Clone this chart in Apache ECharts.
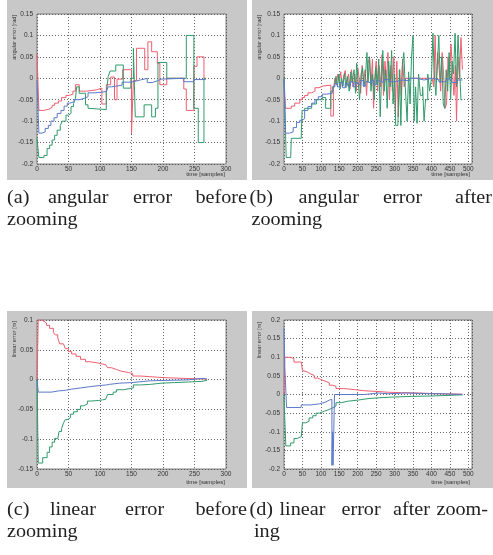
<!DOCTYPE html>
<html>
<head>
<meta charset="utf-8">
<script src="https://cdn.jsdelivr.net/npm/echarts@6/dist/echarts.min.js"></script>
<style>
  html, body { margin: 0; padding: 0; background: #fff; }
  #main { width: 493px; height: 555px; }
</style>
</head>
<body>
<div id="main"></div>
<script>
// ---- data: [time sample, error] steps ----
// (a) angular error before zooming
const angBeforeRed = [[0,0.058],[3,-0.075],[11,-0.072],[19,-0.068],[24,-0.063],[28,-0.058],[34,-0.053],[39,-0.045],[46,-0.040],[51,-0.037],[57,-0.030],[61,-0.015],[67,-0.030],[79,-0.027],[94,-0.023],[103,-0.060],[110,-0.015],[117,0.003],[123,-0.050],[127,-0.002],[136,0.020],[150,-0.130],[153,-0.005],[158,0.070],[171,0.020],[176,0.085],[182,0.062],[191,0.035],[195,-0.015],[206,0.000],[233,-0.025],[237,-0.075],[249,0.028],[254,0.050],[265,0.000],[268,0.000]];
const angBeforeBlue = [[0,-0.005],[3,-0.128],[8,-0.125],[13,-0.117],[18,-0.110],[22,-0.100],[27,-0.092],[32,-0.082],[38,-0.075],[43,-0.065],[48,-0.058],[52,-0.055],[59,-0.050],[67,-0.047],[75,-0.043],[81,-0.034],[92,-0.031],[110,-0.027],[113,-0.020],[118,-0.018],[127,-0.016],[135,-0.009],[148,-0.008],[153,-0.004],[164,-0.002],[170,0.000],[175,-0.010],[183,-0.006],[191,-0.002],[197,0.000],[233,-0.008],[249,-0.003],[268,-0.003]];
const angBeforeGreen = [[0,-0.140],[3,-0.185],[11,-0.180],[16,-0.164],[20,-0.156],[24,-0.144],[28,-0.133],[32,-0.121],[37,-0.110],[40,-0.100],[46,-0.086],[50,-0.082],[54,-0.066],[58,-0.059],[61,-0.047],[63,-0.020],[67,-0.035],[77,-0.062],[81,-0.070],[84,-0.073],[110,-0.035],[113,0.004],[116,0.017],[125,0.031],[137,-0.023],[149,0.000],[153,0.070],[156,-0.090],[170,-0.062],[182,-0.090],[188,-0.070],[192,0.037],[206,0.000],[233,0.000],[237,0.100],[249,-0.070],[256,-0.150],[265,0.000],[268,0.000]];

// (b) angular error after zooming
const angAfterRed = [[0,0.000],[4,-0.070],[11,-0.070],[20,-0.065],[29,-0.058],[43,-0.050],[49,-0.045],[56,-0.040],[65,-0.034],[75,-0.030],[84,-0.022],[95,-0.018],[106,-0.016],[127,-0.088],[134,-0.027],[138,0.000],[142,-0.015],[146,0.010],[150,-0.010],[154,0.015],[158,-0.020],[162,0.005],[166,0.018],[170,-0.015],[175,0.010],[179,-0.025],[183,0.020],[188,-0.020],[192,0.010],[196,-0.030],[200,0.025],[204,0.000],[208,-0.035],[212,0.030],[216,-0.010],[220,0.020],[224,-0.040],[228,0.035],[232,0.050],[236,-0.015],[240,0.045],[243,-0.070],[246,0.000],[250,0.040],[254,-0.030],[258,0.030],[262,-0.020],[266,0.055],[270,-0.040],[274,0.040],[278,-0.010],[282,0.060],[286,-0.050],[290,0.030],[294,-0.030],[298,0.050],[302,-0.080],[306,0.040],[310,-0.090],[314,0.020],[318,-0.040],[322,0.045],[326,-0.020],[330,0.000],[402,0.000],[406,-0.020],[410,0.100],[413,-0.010],[417,0.060],[421,0.020],[425,-0.030],[429,0.060],[433,0.010],[437,-0.070],[441,-0.060],[445,0.050],[449,0.000],[453,0.080],[457,0.020],[461,-0.040],[465,0.030],[468,-0.100],[472,0.050],[476,0.000],[480,0.095],[484,0.020]];
const angAfterBlue = [[0,0.000],[4,-0.128],[15,-0.125],[25,-0.115],[34,-0.103],[43,-0.098],[49,-0.094],[56,-0.075],[65,-0.066],[75,-0.058],[84,-0.050],[93,-0.043],[104,-0.037],[115,-0.035],[131,-0.020],[138,-0.012],[145,-0.020],[152,-0.010],[159,-0.022],[166,-0.012],[173,-0.018],[180,-0.008],[187,-0.020],[194,-0.010],[201,-0.015],[208,-0.005],[215,-0.018],[222,-0.008],[229,-0.012],[236,-0.004],[243,-0.015],[250,-0.006],[260,-0.010],[270,-0.003],[285,-0.008],[300,-0.004],[320,-0.006],[340,0.000],[360,-0.004],[380,0.000],[402,-0.003],[420,-0.008],[440,-0.002],[455,-0.010],[470,-0.004],[484,-0.004]];
const angAfterGreen = [[0,0.000],[3,-0.090],[6,-0.185],[18,-0.185],[20,-0.140],[47,-0.130],[49,-0.075],[56,-0.070],[75,-0.060],[88,-0.050],[104,-0.045],[113,-0.070],[127,-0.030],[133,-0.020],[138,-0.015],[141,0.005],[145,-0.020],[149,0.010],[152,-0.025],[156,0.000],[160,-0.018],[164,0.012],[168,-0.022],[172,0.004],[177,-0.030],[181,0.015],[185,-0.010],[190,0.020],[194,-0.035],[197,0.035],[201,-0.005],[205,-0.050],[209,0.010],[213,0.025],[217,-0.020],[221,0.005],[225,0.060],[228,-0.010],[232,0.050],[236,-0.030],[240,0.010],[245,-0.050],[249,0.025],[253,-0.015],[257,0.045],[261,-0.090],[264,-0.010],[268,0.065],[272,-0.030],[276,0.020],[280,-0.070],[284,0.040],[288,-0.020],[292,0.065],[296,-0.060],[300,0.010],[303,-0.110],[309,-0.105],[313,0.020],[317,-0.110],[321,0.030],[325,0.060],[329,-0.020],[334,-0.100],[338,0.015],[342,-0.060],[346,0.050],[350,0.100],[353,-0.100],[357,-0.020],[361,-0.105],[365,0.010],[370,-0.040],[376,-0.020],[380,-0.100],[384,-0.050],[390,0.010],[395,-0.030],[400,0.000],[404,0.105],[407,0.020],[412,-0.040],[416,0.030],[420,0.100],[424,-0.010],[428,0.050],[432,-0.060],[436,-0.070],[440,0.020],[444,-0.030],[448,0.060],[452,-0.050],[456,0.040],[460,0.010],[464,0.105],[468,-0.020],[472,0.100],[476,0.030],[480,-0.050],[484,-0.050]];

// (c) linear error before zooming
const linBeforeRed = [[0,0],[2,0.100],[7,0.098],[11,0.095],[15,0.091],[20,0.086],[26,0.079],[29,0.075],[33,0.070],[36,0.060],[42,0.057],[45,0.052],[50,0.047],[55,0.043],[62,0.039],[69,0.034],[77,0.030],[84,0.028],[96,0.025],[109,0.023],[112,0.020],[118,0.017],[126,0.014],[134,0.012],[145,0.010],[152,0.006],[164,0.005],[178,0.004],[191,0.003],[208,0.002],[235,0.001],[262,0.001],[270,0]];
const linBeforeBlue = [[0,0],[2,-0.021],[23,-0.019],[34,-0.018],[45,-0.016],[55,-0.014],[69,-0.012],[83,-0.010],[99,-0.009],[110,-0.008],[115,-0.006],[131,-0.005],[150,-0.004],[153,-0.002],[180,-0.001],[218,-0.0005],[240,0.001],[251,0.002],[265,0.000],[270,0.000]];
const linBeforeGreen = [[0,0],[2,-0.140],[9,-0.131],[16,-0.122],[20,-0.113],[24,-0.105],[28,-0.099],[33,-0.096],[35,-0.087],[39,-0.082],[42,-0.073],[45,-0.067],[49,-0.064],[53,-0.058],[58,-0.054],[64,-0.050],[69,-0.044],[74,-0.041],[80,-0.036],[85,-0.035],[98,-0.034],[104,-0.033],[109,-0.030],[112,-0.025],[121,-0.021],[126,-0.017],[137,-0.015],[148,-0.014],[153,-0.009],[164,-0.008],[180,-0.006],[197,-0.005],[218,-0.004],[240,-0.003],[262,-0.001],[270,0]];

// (d) linear error after zooming
const linAfterRed = [[0,0],[2,0.100],[18,0.096],[27,0.087],[47,0.085],[50,0.065],[55,0.060],[64,0.055],[73,0.051],[82,0.044],[91,0.040],[100,0.035],[114,0.031],[123,0.025],[132,0.022],[141,0.016],[155,0.015],[173,0.013],[192,0.010],[219,0.008],[255,0.006],[283,0.005],[319,0.004],[365,0.002],[420,0.001],[484,0]];
const linAfterBlue = [[0,0.178],[2,0.078],[7,-0.035],[46,-0.033],[47,-0.028],[73,-0.025],[96,-0.020],[114,-0.015],[123,-0.013],[130,-0.190],[132,-0.100],[133,-0.190],[135,-0.100],[137,0.000],[219,0.004],[255,0.002],[283,0.004],[330,0.002],[401,0.002],[430,0.000],[484,0.000]];
const linAfterGreen = [[0,0],[2,-0.063],[5,-0.138],[18,-0.130],[27,-0.118],[36,-0.113],[47,-0.110],[50,-0.076],[59,-0.072],[68,-0.063],[78,-0.057],[87,-0.050],[96,-0.045],[109,-0.040],[123,-0.036],[132,-0.031],[141,-0.022],[155,-0.018],[173,-0.015],[201,-0.011],[228,-0.009],[255,-0.007],[292,-0.005],[347,-0.004],[401,-0.002],[456,-0.001],[484,0]];

// axis ranges and labels
const xMaxes = [300, 510, 300, 510];
const yRanges = [[-0.2, 0.15], [-0.2, 0.15], [-0.15, 0.1], [-0.2, 0.2]];
const yNames = ['angular error [rad]', 'angular error [rad]', 'linear error [m]', 'linear error [m]'];
const xName = 'time [samples]';

const RED = '#ee5f70', BLUE = '#5b79c9', GREEN = '#2f9c6a';

const chart = echarts.init(document.getElementById('main'), null, { renderer: 'canvas' });

// plot boxes (px)
const boxes = [
  { left: 37, top: 14, width: 189, height: 150 },
  { left: 284, top: 14, width: 188, height: 150 },
  { left: 37, top: 320, width: 189, height: 149 },
  { left: 284, top: 320, width: 188, height: 149 }
];
// gray figure panels
const panels = [
  { x: 7, y: 0, width: 240, height: 180 },
  { x: 252, y: 0, width: 241, height: 180 },
  { x: 7, y: 311, width: 240, height: 177 },
  { x: 252, y: 311, width: 241, height: 177 }
];

const seriesData = [
  [angBeforeRed, angBeforeBlue, angBeforeGreen],
  [angAfterRed, angAfterBlue, angAfterGreen],
  [linBeforeRed, linBeforeBlue, linBeforeGreen],
  [linAfterRed, linAfterBlue, linAfterGreen]
];

const tickFont = { fontFamily: 'Liberation Sans, Arial, sans-serif', fontSize: 6.5, color: '#333' };
const gridLine = { show: true, lineStyle: { color: '#444', width: 0.8, type: [1, 2] } };

const grids = boxes.map(b => Object.assign({
  show: true, backgroundColor: '#fff', borderColor: '#666', borderWidth: 0.8, containLabel: false
}, b));

const xAxes = xMaxes.map((mx, i) => ({
  type: 'value', gridIndex: i, min: 0, max: mx, interval: 50,
  axisLine: { show: false },
  axisTick: { show: true, inside: true, length: 2, lineStyle: { color: '#666', width: 0.6 } },
  axisLabel: Object.assign({ margin: 2, formatter: v => (v % 50 === 0 ? String(v) : '') }, tickFont),
  splitLine: gridLine
}));

const yAxes = yRanges.map((r, i) => ({
  type: 'value', gridIndex: i, min: r[0], max: r[1], interval: 0.05,
  axisLine: { show: false },
  axisTick: { show: true, inside: true, length: 2, lineStyle: { color: '#666', width: 0.6 } },
  axisLabel: Object.assign({ margin: 4 }, tickFont),
  splitLine: gridLine
}));

const series = [];
seriesData.forEach((trio, i) => {
  [RED, BLUE, GREEN].forEach((c, k) => {
    series.push({
      type: 'line', xAxisIndex: i, yAxisIndex: i, step: 'end',
      data: trio[k], showSymbol: false, silent: true,
      lineStyle: { color: c, width: 1 }, z: 3 + (k === 1 ? 1 : 0)
    });
  });
});

// gray backgrounds + axis names + captions
const graphic = [];
panels.forEach(p => {
  graphic.push({ type: 'rect', z: -10, shape: p, style: { fill: '#c8c8c8' } });
});
const yNamePos = [[14, 15], [259.5, 15], [14, 321], [259.5, 322]];
yNamePos.forEach((p, i) => {
  graphic.push({
    type: 'text', x: p[0], y: p[1], rotation: Math.PI / 2, z: 5,
    style: { text: yNames[i], fontSize: 5.6, fontFamily: 'Liberation Sans, Arial, sans-serif',
      fill: '#333', align: 'right', verticalAlign: 'middle' }
  });
});
const xNamePos = [[225, 174], [470, 174], [225, 482], [470, 482]];
xNamePos.forEach(p => {
  graphic.push({
    type: 'text', x: p[0], y: p[1], z: 5,
    style: { text: xName, fontSize: 6, fontFamily: 'Liberation Sans, Arial, sans-serif',
      fill: '#333', align: 'right', verticalAlign: 'middle' }
  });
});

// captions (justified lines placed word by word; 'r' = right edge of the word)
const captionWords = [
  ['(a)', 7, 198, 'l'], ['angular', 48, 198, 'l'], ['error', 133, 198, 'l'], ['before', 247, 198, 'r'],
  ['zooming', 7, 220, 'l'],
  ['(b)', 249.5, 198, 'l'], ['angular', 298.5, 198, 'l'], ['error', 383, 198, 'l'], ['after', 492, 198, 'r'],
  ['zooming', 251.5, 220, 'l'],
  ['(c)', 7, 510, 'l'], ['linear', 50, 510, 'l'], ['error', 125, 510, 'l'], ['before', 247, 510, 'r'],
  ['zooming', 7, 532, 'l'],
  ['(d)', 249.5, 510, 'l'], ['linear', 279.5, 510, 'l'], ['error', 341.5, 510, 'l'], ['after', 393, 510, 'l'], ['zoom-', 488, 510, 'r'],
  ['ing', 254, 532, 'l']
];
captionWords.forEach(w => {
  graphic.push({
    type: 'text', x: w[1], y: w[2], scaleX: 1.12, z: 5,
    style: { text: w[0], fontSize: 18, fontFamily: 'Liberation Serif, Times New Roman, serif',
      fill: '#222', align: w[3] === 'r' ? 'right' : 'left', verticalAlign: 'middle' }
  });
});

chart.setOption({
  animation: false,
  backgroundColor: '#fff',
  grid: grids,
  xAxis: xAxes,
  yAxis: yAxes,
  series: series,
  graphic: graphic
});
</script>
</body>
</html>
